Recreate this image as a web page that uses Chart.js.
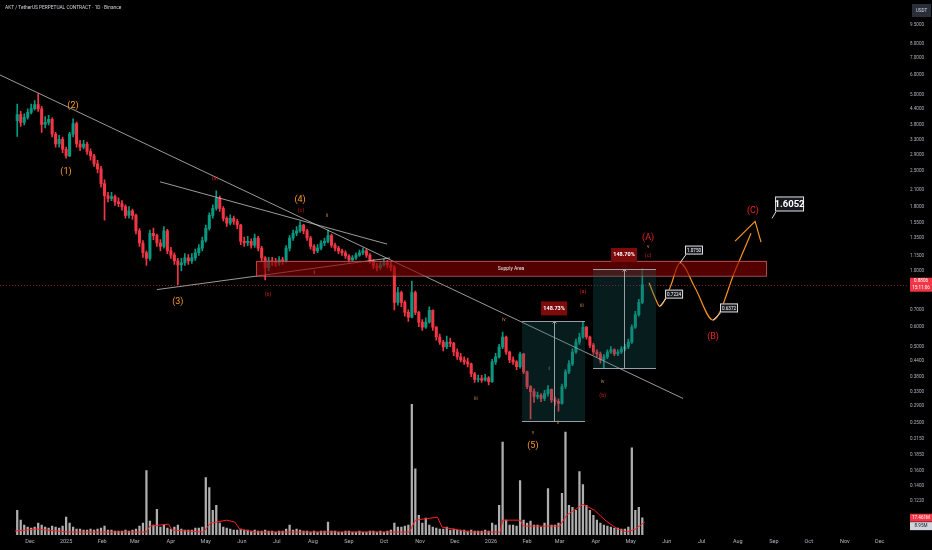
<!DOCTYPE html>
<html>
<head>
<meta charset="utf-8">
<script src="https://cdn.jsdelivr.net/npm/chart.js@4.4.1/dist/chart.umd.min.js"></script>
<style>
  html, body { margin: 0; padding: 0; background: #000; }
  #wrap { width: 932px; height: 550px; }
</style>
</head>
<body>
<div id="wrap"><canvas id="c" width="932" height="550"></canvas></div>
<script>
// days are counted from 1 Dec 2024, one candle every 3 days
const firstDay = -11;
const step = 3;
const firstOpen = 3.95;
const lastPrice = 0.8806;

const closes = [4.18,3.89,4.07,4.26,4.41,4.58,4.40,3.82,3.89,4.00,
  3.49,3.19,3.33,3.04,2.86,3.49,3.85,3.19,3.10,3.19,
  2.98,2.86,2.66,2.54,2.22,1.99,1.94,1.97,1.88,1.85,
  1.80,1.66,1.73,1.66,1.44,1.29,1.18,1.12,1.41,1.38,
  1.29,1.25,1.44,1.20,1.155,1.095,1.056,1.075,1.125,1.095,
  1.125,1.18,1.23,1.32,1.475,1.66,1.77,1.94,1.77,1.615,
  1.545,1.615,1.57,1.52,1.31,1.29,1.31,1.265,1.35,1.23,
  1.125,1.03,1.095,1.09,1.075,1.105,1.095,1.23,1.35,1.41,
  1.44,1.52,1.44,1.35,1.25,1.20,1.23,1.29,1.31,1.38,
  1.265,1.23,1.20,1.18,1.145,1.105,1.125,1.155,1.18,1.20,
  1.155,1.095,1.045,1.03,1.056,1.075,1.056,1.03,0.749,0.82,
  0.749,0.684,0.654,0.82,0.684,0.625,0.597,0.625,0.697,0.597,
  0.546,0.521,0.498,0.521,0.515,0.476,0.455,0.443,0.435,0.427,
  0.39,0.37,0.373,0.368,0.376,0.363,0.435,0.455,0.498,0.546,
  0.476,0.443,0.435,0.416,0.467,0.397,0.347,0.331,0.317,0.32,
  0.311,0.325,0.338,0.307,0.303,0.297,0.347,0.397,0.427,0.476,
  0.521,0.546,0.597,0.546,0.507,0.476,0.467,0.443,0.455,0.476,
  0.485,0.467,0.476,0.489,0.498,0.521,0.597,0.67,0.749,0.8806];

const highs = [4.6,4.3,4.2,4.4,4.6,4.75,5.05,4.5,4.1,4.15,
  4.05,3.55,3.45,3.4,3.1,3.55,4.02,3.9,3.3,3.3,
  3.25,3.05,2.9,2.75,2.6,2.3,2.05,2.05,2.0,1.95,
  1.9,1.83,1.8,1.76,1.68,1.47,1.32,1.2,1.45,1.48,
  1.4,1.33,1.5,1.46,1.24,1.18,1.12,1.12,1.17,1.16,
  1.17,1.22,1.27,1.36,1.52,1.7,1.83,2.08,1.98,1.8,
  1.64,1.67,1.65,1.6,1.53,1.36,1.37,1.34,1.4,1.37,
  1.25,1.14,1.13,1.13,1.12,1.14,1.13,1.26,1.38,1.45,
  1.5,1.57,1.53,1.46,1.37,1.27,1.27,1.32,1.35,1.45,
  1.4,1.29,1.25,1.22,1.2,1.16,1.15,1.18,1.21,1.23,
  1.22,1.17,1.11,1.07,1.09,1.11,1.1,1.08,1.05,0.86,
  0.83,0.76,0.7,0.91,0.83,0.69,0.64,0.65,0.72,0.7,
  0.6,0.56,0.53,0.55,0.54,0.52,0.49,0.47,0.455,0.45,
  0.43,0.395,0.385,0.384,0.388,0.38,0.445,0.47,0.51,0.571,
  0.55,0.48,0.455,0.44,0.475,0.47,0.4,0.35,0.34,0.33,
  0.325,0.335,0.35,0.34,0.315,0.31,0.355,0.405,0.44,0.49,
  0.535,0.565,0.629,0.6,0.55,0.515,0.485,0.475,0.465,0.485,
  0.5,0.49,0.485,0.5,0.51,0.535,0.61,0.69,0.77,1.02];

const lows = [3.42,3.75,3.8,4.0,4.2,4.35,4.3,3.55,3.7,3.8,
  3.4,3.1,3.1,2.95,2.8,2.84,3.4,3.1,3.0,3.05,
  2.9,2.75,2.6,2.45,2.15,1.59,1.88,1.9,1.82,1.8,
  1.74,1.62,1.62,1.6,1.4,1.25,1.13,1.05,1.1,1.33,
  1.25,1.2,1.23,1.17,1.12,1.06,0.88,1.0,1.05,1.06,
  1.07,1.1,1.15,1.2,1.3,1.45,1.62,1.74,1.72,1.58,
  1.5,1.52,1.53,1.47,1.27,1.25,1.26,1.23,1.24,1.2,
  1.09,0.92,1.0,1.05,1.04,1.05,1.06,1.08,1.2,1.32,
  1.38,1.42,1.4,1.32,1.22,1.17,1.18,1.21,1.26,1.29,
  1.24,1.2,1.17,1.15,1.12,1.08,1.09,1.11,1.14,1.16,
  1.13,1.07,1.02,1.0,1.01,1.04,1.03,1.0,0.7,0.73,
  0.72,0.66,0.63,0.65,0.67,0.6,0.58,0.59,0.62,0.58,
  0.53,0.51,0.48,0.49,0.5,0.46,0.445,0.435,0.425,0.415,
  0.38,0.36,0.362,0.36,0.364,0.352,0.36,0.425,0.45,0.49,
  0.465,0.432,0.425,0.405,0.41,0.39,0.34,0.258,0.3,0.31,
  0.302,0.305,0.318,0.3,0.292,0.277,0.295,0.34,0.39,0.42,
  0.47,0.51,0.54,0.535,0.495,0.465,0.455,0.43,0.41,0.448,
  0.47,0.46,0.46,0.47,0.48,0.49,0.515,0.59,0.66,0.74];

// volume in millions
const volumes = [25,15,10,8,7,8,12,10,8,7,
  9,8,7,9,18,12,8,6,6,5,
  5,6,5,6,7,9,5,5,4,4,
  4,5,4,5,6,9,12,65,14,10,
  26,8,10,7,6,8,10,6,5,5,
  5,7,7,8,58,48,25,30,12,8,
  7,6,5,5,6,5,5,4,5,4,
  4,5,4,4,3,4,4,6,10,5,
  6,5,4,4,3,4,3,4,4,13,
  4,4,3,3,4,4,3,3,4,3,
  3,4,4,3,4,3,4,5,12,8,
  8,9,10,132,67,20,12,17,10,8,
  7,6,6,8,5,6,5,5,5,4,
  5,4,4,4,5,4,12,10,30,94,
  15,10,10,9,55,15,12,14,10,10,
  8,12,47,10,10,12,42,104,30,28,
  25,64,51,30,25,20,15,12,10,9,
  8,7,7,6,6,8,88,25,28,17.461];
const volMaLast = 8.95;

// red volume average line
const maDays = [-13,6,32,100,103,119,122,149,155,169,176,180,193,326,331,350,354,378,404,406,421,424,455,461,475,485,495,505,513,520,528];
const maVals = [4,6,3,3,9,11,5,3,12,15,13,6,3,3,15,18,8,3,3,15,15,9,9,20,31,25,14,6,3,6,13];

const monthLabels = ['Dec','2025','Feb','Mar','Apr','May','Jun','Jul','Aug','Sep','Oct','Nov','Dec',
  '2026','Feb','Mar','Apr','May','Jun','Jul','Aug','Sep','Oct','Nov','Dec'];
const priceTicks = [9.5,8,7,6,5,4.4,3.8,3.3,2.9,2.5,2.1,1.8,1.55,1.35,1.15,1.0,
  0.7,0.6,0.5,0.44,0.38,0.33,0.29,0.25,0.215,0.185,0.16,0.14,0.122];

// drawings, [day, price]
const trend1 = [[-25.8,6.0],[561,0.311]];
const trend2 = [[111.7,2.258],[306.7,1.277]];
const trend3 = [[109,0.842],[309.3,1.125]];
const projDays = [531.8,536.9,541,549.8,558.4,571.3,586.8,605.7,619.4];
const projPrices = [0.897,0.783,0.7224,0.857,1.075,0.857,0.6372,1.0,1.41];
const arrowHead = [[605.7,1.312],[622.9,1.572],[628,1.3]];
const supplyDays = [194.2,632.3];
const supplyPrices = [0.956,1.095];
const boxDays = [[422.7,450.2,476.8],[483.7,510.3,537.8]];
const boxPrices = [[0.253,0.629],[0.41,1.02]];
const boxLabels = ['148.73%','148.70%'];
const boxLabelPrices = [0.709,1.156];
const callouts = [
  ['0.7224',541,0.7224,553.3,0.808],
  ['1.0750',558.4,1.075,570.4,1.209],
  ['0.6372',586.8,0.6372,600.5,0.712],
  ['1.6052',637.5,1.616,652.5,1.843]
];
// text, day, price, kind (1 big orange, 2 big red, 3 small orange, 4 small red)
const waveLabels = [
  ['(1)',30.9,2.47,1],['(2)',36.9,4.53,1],['(3)',127,0.755,1],['(4)',232,1.918,1],['(5)',432,0.2015,1],
  ['(A)',531,1.348,2],['(B)',586.8,0.545,2],['(C)',621,1.737,2],
  ['(a)',159,2.32,4],['(b)',204.5,0.805,4],['(c)',232.8,1.737,4],
  ['i',244,0.982,3],['ii',255,1.66,3],['iii',383,0.311,3],['iv',407,0.642,3],['v',432,0.227,3],
  ['i',446,0.408,3],['ii',453.6,0.248,3],['iii',474,0.728,3],['(a)',475,0.827,4],
  ['iv',492,0.363,3],['(b)',492,0.32,4],['v',531,1.243,3],['(c)',531,1.145,4]
];

const days = closes.map((c, i) => firstDay + step * i);
const opens = closes.map((c, i) => i === 0 ? firstOpen : closes[i - 1]);
const candleColor = closes.map((c, i) => c >= opens[i] ? '#089981' : '#f23645');
const monthDays = monthLabels.map((m, k) => (Date.UTC(2024, 11 + k, 1) - Date.UTC(2024, 11, 1)) / 86400000);
const pts = arr => arr.map(p => ({ x: p[0], y: p[1] }));

Chart.defaults.font.family = 'Roboto';

const trendStyle = { type: 'line', pointRadius: 0, borderColor: 'rgba(205,205,205,0.75)', borderWidth: 1, order: 0 };

const overlay = {
  id: 'overlay',
  afterDatasetsDraw(chart) {
    const { ctx, chartArea: a, scales } = chart;
    const X = d => scales.x.getPixelForValue(d);
    const Y = p => scales.y.getPixelForValue(p);
    const text = (s, x, y, color, size, weight) => {
      ctx.fillStyle = color;
      ctx.font = (weight || '') + ' ' + size + 'px Roboto';
      ctx.textAlign = 'center';
      ctx.textBaseline = 'middle';
      ctx.fillText(s, x, y);
    };
    ctx.save();
    ctx.beginPath();
    ctx.rect(a.left, a.top, a.width, a.height);
    ctx.clip();

    // last price line
    const ly = Math.round(Y(lastPrice)) + 0.5;
    ctx.strokeStyle = 'rgba(242,54,69,0.5)';
    ctx.lineWidth = 1;
    ctx.setLineDash([1, 2]);
    ctx.beginPath(); ctx.moveTo(a.left, ly); ctx.lineTo(a.right, ly); ctx.stroke();
    ctx.setLineDash([]);

    // supply area
    const sx0 = X(supplyDays[0]), sx1 = X(supplyDays[1]);
    const sy0 = Y(supplyPrices[1]), sy1 = Y(supplyPrices[0]);
    ctx.fillStyle = 'rgba(135,0,0,0.62)';
    ctx.fillRect(sx0, sy0, sx1 - sx0, sy1 - sy0);
    ctx.strokeStyle = 'rgba(200,90,90,0.85)';
    ctx.strokeRect(sx0 + 0.5, sy0 + 0.5, sx1 - sx0, sy1 - sy0);
    text('Supply Area', (sx0 + sx1) / 2, (sy0 + sy1) / 2, '#e8e8e8', 5);

    // measured boxes
    boxDays.forEach((b, k) => {
      const x0 = X(b[0]), xm = Math.round(X(b[1])) + 0.5, x1 = X(b[2]);
      const yt = Math.round(Y(boxPrices[k][1])) + 0.5, yb = Math.round(Y(boxPrices[k][0])) + 0.5;
      ctx.fillStyle = 'rgba(25,105,105,0.27)';
      ctx.fillRect(x0, yt, x1 - x0, yb - yt);
      ctx.strokeStyle = 'rgba(170,175,180,0.9)';
      ctx.beginPath();
      ctx.moveTo(x0, yt); ctx.lineTo(x1, yt);
      ctx.moveTo(x0, yb); ctx.lineTo(x1, yb);
      ctx.moveTo(xm, yb); ctx.lineTo(xm, yt);
      ctx.moveTo(xm - 2, yt + 2); ctx.lineTo(xm, yt); ctx.lineTo(xm + 2, yt + 2);
      ctx.stroke();
      const lx = X(b[1]), lyy = Y(boxLabelPrices[k]);
      ctx.fillStyle = '#7d0b0b';
      ctx.fillRect(lx - 13, lyy - 7, 26, 14);
      text(boxLabels[k], lx, lyy, '#ffffff', 5.5, 'bold');
    });

    // wave labels
    const kinds = { 1: ['#ff9a2e', 9], 2: ['#e8262b', 9], 3: ['#c98a44', 5], 4: ['#c41f1f', 5.5] };
    waveLabels.forEach(w => text(w[0], X(w[1]), Y(w[2]), kinds[w[3]][0], kinds[w[3]][1]));

    // projection arrow head
    ctx.strokeStyle = '#f7931e';
    ctx.lineWidth = 1.2;
    ctx.beginPath();
    arrowHead.forEach((p, i) => i ? ctx.lineTo(X(p[0]), Y(p[1])) : ctx.moveTo(X(p[0]), Y(p[1])));
    ctx.stroke();

    // price callouts
    callouts.forEach((c, i) => {
      const big = i === 3;
      const w = big ? 29 : 18, h = big ? 15 : 9;
      const cx = X(c[3]), cy = Y(c[4]);
      ctx.strokeStyle = '#e0e0e0';
      ctx.lineWidth = 1;
      ctx.beginPath(); ctx.moveTo(X(c[1]), Y(c[2])); ctx.lineTo(cx - w / 2 + 1, cy + h / 2); ctx.stroke();
      ctx.fillStyle = '#16181d';
      ctx.fillRect(cx - w / 2, cy - h / 2, w, h);
      ctx.strokeRect(cx - w / 2 + 0.5, cy - h / 2 + 0.5, w - 1, h - 1);
      text(c[0], cx, cy + 0.5, '#ffffff', big ? 9.5 : 4.6, big ? 'bold' : '');
    });
    ctx.restore();

    // right axis tags
    ctx.save();
    const tag = (x, y, w, h, bg, lines, color) => {
      ctx.fillStyle = bg;
      ctx.fillRect(x, y, w, h);
      lines.forEach((s, i) => text(s, x + w / 2, y + (i + 0.5) * h / lines.length, color, 4.6));
    };
    tag(912, 4, 19, 13, '#2a2e39', ['USDT'], '#d1d4dc');
    const py0 = Y(lastPrice);
    tag(910, py0 - 7, 22, 14, '#f23645', ['0.8806', '15:11:06'], '#ffffff');
    const yv = scales.yv;
    tag(910, yv.getPixelForValue(volumes[volumes.length - 1]) - 4, 22, 8, '#f23645', ['17.461M'], '#ffffff');
    tag(910, yv.getPixelForValue(volMaLast) - 4, 22, 8, '#d1d4dc', ['8.95M'], '#131722');
    // title
    ctx.fillStyle = '#d1d4dc';
    ctx.font = '4.8px Roboto';
    ctx.textAlign = 'left';
    ctx.textBaseline = 'middle';
    ctx.fillText('AKT / TetherUS PERPETUAL CONTRACT · 1D · Binance', 5, 8);
    ctx.restore();
  }
};

new Chart(document.getElementById('c'), {
  type: 'bar',
  data: {
    datasets: [
      Object.assign({ data: pts(trend1) }, trendStyle),
      Object.assign({ data: pts(trend2) }, trendStyle),
      Object.assign({ data: pts(trend3) }, trendStyle),
      {
        type: 'line', order: 0, pointRadius: 0, borderColor: '#f7931e', borderWidth: 1.2,
        cubicInterpolationMode: 'monotone',
        data: projDays.map((d, i) => ({ x: d, y: projPrices[i] }))
      },
      {
        data: days.map((d, i) => ({ x: d, y: [opens[i], closes[i]] })),
        backgroundColor: candleColor, barThickness: 2.4, grouped: false, order: 1
      },
      {
        data: days.map((d, i) => ({ x: d, y: [lows[i], highs[i]] })),
        backgroundColor: candleColor, barThickness: 1, grouped: false, order: 2
      },
      {
        type: 'line', yAxisID: 'yv', order: 3, pointRadius: 0, borderColor: '#ff1f1f', borderWidth: 1,
        data: maDays.map((d, i) => ({ x: d, y: maVals[i] }))
      },
      {
        yAxisID: 'yv', data: days.map((d, i) => ({ x: d, y: volumes[i] })),
        backgroundColor: 'rgba(205,205,205,0.85)', barThickness: 1.6, grouped: false, order: 5
      }
    ]
  },
  options: {
    responsive: false,
    animation: false,
    devicePixelRatio: 1,
    layout: { padding: 0 },
    plugins: { legend: { display: false }, tooltip: { enabled: false } },
    scales: {
      x: {
        type: 'linear', min: -25.8, max: 753.4, offset: false,
        grid: { display: false, drawTicks: false }, border: { display: false },
        afterBuildTicks: s => { s.ticks = monthDays.map(v => ({ value: v })); },
        afterFit: s => { s.height = 15; },
        ticks: {
          autoSkip: false, maxRotation: 0, padding: 3, color: '#b2b5be', font: { size: 5.5 },
          callback: (v, i) => monthLabels[i]
        }
      },
      y: {
        type: 'logarithmic', position: 'right', min: 0.0892, max: 11.3,
        grid: { display: false, drawTicks: false }, border: { display: false },
        afterBuildTicks: s => { s.ticks = priceTicks.map(v => ({ value: v })); },
        afterFit: s => { s.width = 25; },
        ticks: {
          autoSkip: false, padding: 3, crossAlign: 'center', color: '#b2b5be', font: { size: 4.6 },
          callback: v => Number(v).toFixed(4)
        }
      },
      yv: { type: 'linear', display: false, min: 0, max: 535 }
    }
  },
  plugins: [overlay]
});
</script>
</body>
</html>
